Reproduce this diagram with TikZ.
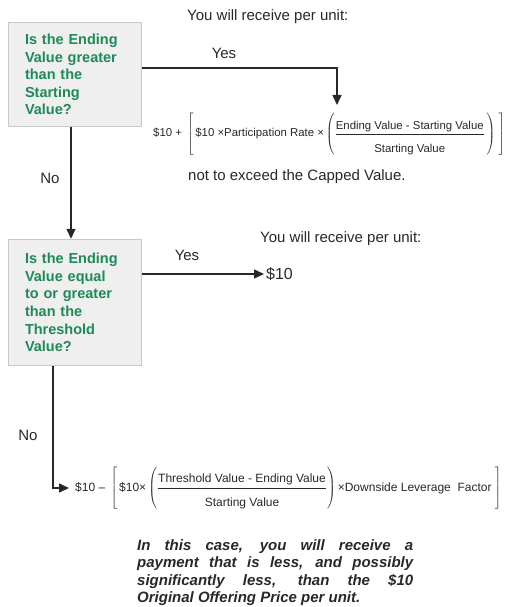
\documentclass[tikz,border=0pt]{standalone}
\usepackage{fontspec}
\setmainfont{Liberation Sans}
\usetikzlibrary{arrows.meta}
\definecolor{qgreen}{RGB}{30,138,88}
\definecolor{qfill}{RGB}{238,239,238}
\definecolor{qline}{RGB}{200,200,200}
\definecolor{ink}{RGB}{40,40,40}

\begin{document}
\begin{tikzpicture}
    [x=1pt,y=-1pt,
     every node/.style={inner sep=0pt,text=ink},
     question/.style={draw=qline,line width=1.5pt,fill=qfill,text=qgreen,
       font=\fontsize{14.5}{17.6}\selectfont\bfseries,align=left,
       text width=100pt,minimum width=133pt},
     flow/.style={draw=ink,line width=1.5pt,-{Triangle[length=10pt,width=9pt]}},
     lbl/.style={font=\fontsize{15}{18}\selectfont}]
    \useasboundingbox (0,0) rectangle (506,607);
    \node[question,minimum height=104pt] (q1) at (75,74.5) {Is the Ending\\Value greater\\than the\\Starting\\Value?};
    \node[question,minimum height=126pt] (q2) at (75,302.5) {Is the Ending\\Value equal\\to or greater\\than the\\Threshold\\Value?};
    \node[lbl,anchor=west] (rcv1) at (187,17) {You will receive per unit:};
    \node[lbl] (yes1) at (224,53) {Yes};
    \node[anchor=west,font=\fontsize{11.4}{13}\selectfont] (f1) at (153,134)
      {$\mbox{\$10 +}\;\left[\,\rule[-19.2pt]{0pt}{44pt}\mbox{\$10 ×Participation Rate ×}\left(\rule[-19pt]{0pt}{43pt}\displaystyle\frac{\mbox{Ending Value - Starting Value}}{\rule{0pt}{17pt}\mbox{Starting Value}}\,\right)\;\right]$};
    \node[lbl,anchor=west] (cap) at (188,177) {not to exceed the Capped Value.};
    \node[lbl] (no1) at (50,178) {No};
    \node[lbl] (yes2) at (187,255) {Yes};
    \node[lbl,anchor=west] (rcv2) at (260,239) {You will receive per unit:};
    \node[lbl,anchor=west,inner xsep=2pt,font=\fontsize{16}{18}\selectfont] (ten) at (264,274) {\$10};
    \node[lbl] (no2) at (28,435) {No};
    \node[anchor=west,inner xsep=6pt,font=\fontsize{12}{14}\selectfont] (f2) at (69,488)
      {$\mbox{\$10 –}\;\left[\,\rule[-20pt]{0pt}{46pt}\mbox{\$10×}\left(\rule[-19pt]{0pt}{44pt}\displaystyle\frac{\mbox{Threshold Value - Ending Value}}{\rule{0pt}{17pt}\mbox{Starting Value}}\right)\mbox{×Downside Leverage\ \ Factor}\;\right]$};
    \node[anchor=north west,text width=276pt,align=justify,font=\fontsize{15}{17.5}\selectfont\bfseries\itshape] (warn) at (137,539)
      {In this case, you will receive a\linebreak payment that is less, and possibly\linebreak significantly less, than the \$10\linebreak Original Offering Price per unit.};
    \coordinate (t1) at (337,105);
    \draw[flow] ([yshift=6.5pt]q1.east) -| (t1);
    \draw[flow] ([xshift=-4pt]q1.south) -- ([xshift=-4pt]q2.north);
    \draw[flow] (q2.east |- ten.west) -- (ten.west);
    \draw[flow] ([xshift=-22pt]q2.south) |- (f2.west);
\end{tikzpicture}
\end{document}
